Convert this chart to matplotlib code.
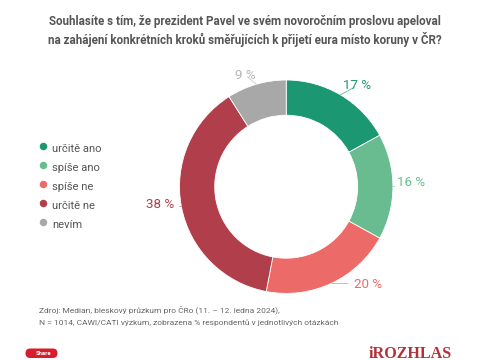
import matplotlib
matplotlib.use('Agg')
import matplotlib.pyplot as plt
from matplotlib.patches import FancyBboxPatch
import numpy as np

W = 485
H = 360

categories = ['určitě ano', 'spíše ano', 'spíše ne', 'určitě ne', 'nevím']
values = [17, 16, 20, 38, 9]
pct_labels = ['17 %', '16 %', '20 %', '38 %', '9 %']
colors = ['#1b9871', '#68bc8f', '#ec6a67', '#b03f4b', '#a8a8a8']
label_colors = ['#1b9871', '#68bc8f', '#ec6a67', '#b03f4b', '#b5b5b5']
title_lines = ['Souhlasíte s tím, že prezident Pavel ve svém novoročním proslovu apeloval',
               'na zahájení konkrétních kroků směřujících k přijetí eura místo koruny v ČR?']
source_lines = ['Zdroj: Median, bleskový průzkum pro ČRo (11. – 12. ledna 2024),',
                'N = 1014, CAWI/CATI výzkum, zobrazena % respondentů v jednotlivých otázkách']

plt.rcParams['font.family'] = ['Roboto', 'DejaVu Sans']

fig = plt.figure(figsize=(W / 100, H / 100), dpi=100, facecolor='white')

# donut, axes box sized in pixels around the centre of the ring
cx, cy, r = 286.2, 186.7, 106.7
ax = fig.add_axes([(cx - r) / W, 1 - (cy + r) / H, 2 * r / W, 2 * r / H])
wedges, _ = ax.pie(values, colors=colors, startangle=90, counterclock=False, radius=1,
                   wedgeprops=dict(width=0.33, edgecolor='white', linewidth=0.6))
ax.set_xlim(-1, 1)
ax.set_ylim(-1, 1)
ax.set_aspect('equal')

# label centres, in units of the ring radius
label_pos = [(0.66, 0.944), (1.174, 0.037), (0.766, -0.912), (-1.183, -0.163), (-0.386, 1.046)]
for w, txt, col, pos in zip(wedges, pct_labels, label_colors, label_pos):
    a = np.deg2rad((w.theta1 + w.theta2) / 2)
    ax.annotate(txt, xy=(np.cos(a), np.sin(a)), xytext=pos, color=col, fontsize=9.6,
                ha='center', va='center', annotation_clip=False,
                arrowprops=dict(arrowstyle='-', color=col, lw=0.4, shrinkA=2, shrinkB=0))

# overlay in pixel coordinates for everything around the ring
px = fig.add_axes([0, 0, 1, 1], zorder=5)
px.set_xlim(0, W)
px.set_ylim(H, 0)
px.axis('off')
px.patch.set_alpha(0)

for i, line in enumerate(title_lines):
    px.text(245, 21 + i * 18.7, line, ha='center', va='center',
            fontsize=8.4, fontweight='bold', color='#555555')

for i, (name, col) in enumerate(zip(categories, colors)):
    px.plot([43], [145.5 + i * 19], marker='o', linestyle='', color=col, markersize=5.4, mew=0)
    px.text(52, 149 + i * 19, name, ha='left', va='center', fontsize=8.1, color='#555555')

for i, line in enumerate(source_lines):
    px.text(39, 310 + i * 12.3, line, ha='left', va='center', fontsize=6.07, color='#666666')

# share button and logo
px.add_patch(FancyBboxPatch((25.5, 348.5), 32, 9.5, boxstyle='round,pad=0,rounding_size=4.7',
                            fc='#d81e2c', ec='none'))
px.text(43.5, 353.4, 'Share', ha='center', va='center', fontsize=4.2, color='white', fontweight='bold')
px.text(410, 353.5, 'iROZHLAS', ha='center', va='center', fontsize=11.6, fontweight='bold',
        family='Liberation Serif', color='#b5313a')
px.set_xlim(0, W)
px.set_ylim(H, 0)

fig.savefig('out.png', dpi=100)
